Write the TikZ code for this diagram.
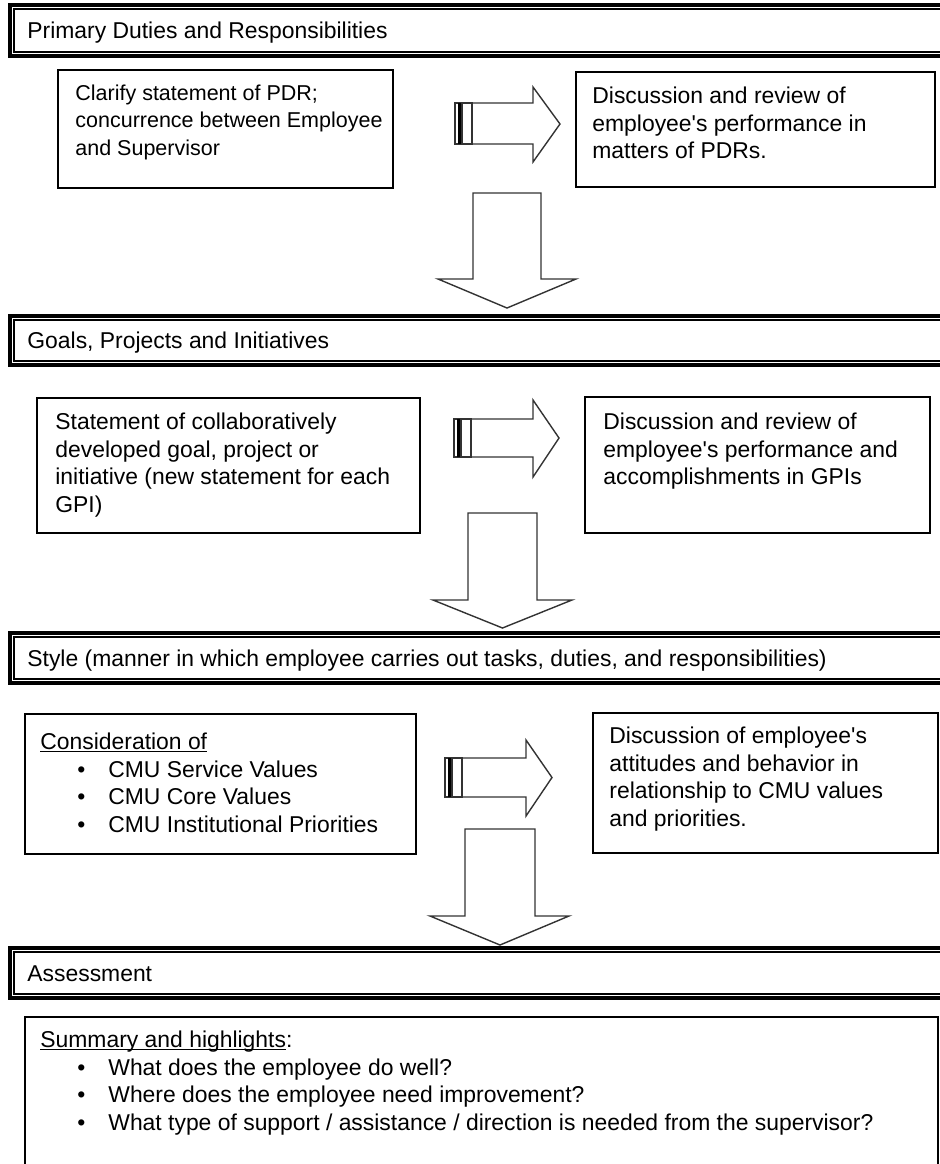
\documentclass[tikz,border=0pt]{standalone}
\usepackage{fontspec}
\setmainfont{Liberation Sans}
\usetikzlibrary{fit}

\newcommand\listpoint[1]{\hspace*{18.5pt}\makebox[15.5pt][l]{\textbullet}#1}
\newcommand\lowline[1]{\setbox0\hbox{#1}\rlap{\rule[-1.1pt]{\wd0}{0.55pt}}\box0}

\tikzset{
  box/.style = {draw, line width=0.75pt, inner sep=0pt},
  headbar/.style = {draw, line width=2pt, inner sep=0pt},
  boxtext/.style = {anchor=north west, inner sep=0pt, align=left},
  headtext/.style = {anchor=base west, inner sep=0pt},
  blockarrow/.style = {draw=black!80, line width=0.7pt, fill=white, line join=miter}
}

\begin{document}
\begin{tikzpicture}[x=0.5pt, y=-0.5pt, font=\fontsize{11.45}{13.75}\selectfont]
        \useasboundingbox (0,0) rectangle (940,1164);
        \clip (0,0) rectangle (940,1164);

        % header bars
        \node [headbar, fit={(10,5) (960,56)}] (pdrbar) {};
        \node [headbar, fit={(10,316) (960,365)}] (gpibar) {};
        \node [headbar, fit={(10,633) (960,683)}] (stylebar) {};
        \node [headbar, fit={(10,948) (960,998)}] (assessbar) {};
        \foreach \bar in {pdrbar, gpibar, stylebar, assessbar}
            \draw [line width=0.6pt] ([shift={(6,6)}]\bar.north west) rectangle ([shift={(0,-6)}]\bar.south east);

        \node [headtext] (pdrhead) at (27,38) {Primary Duties and Responsibilities};
        \node [headtext] (gpihead) at (27,348) {Goals, Projects and Initiatives};
        \node [headtext] (stylehead) at (27,666) {Style (manner in which employee carries out tasks, duties, and responsibilities)};
        \node [headtext] (assesshead) at (27,981) {Assessment};

        % boxes
        \node [box, fit={(58,70) (393,188)}] (pdrbox) {};
        \node [box, fit={(576,72) (935,187)}] (pdrreview) {};
        \node [box, fit={(37,398) (420,533)}] (gpibox) {};
        \node [box, fit={(585,397) (930,533)}] (gpireview) {};
        \node [box, fit={(25,714) (416,854)}] (stylebox) {};
        \node [box, fit={(593,713) (938,853)}] (stylereview) {};
        \node [box, fit={(25,1017) (938,1190)}] (assessbox) {};

        % box texts
        \node [boxtext, font=\fontsize{10.75}{13.75}\selectfont] (pdrtext) at (75,84.5) {Clarify statement of PDR;\\concurrence between Employee\\and Supervisor};
        \node [boxtext] (pdrreviewtext) at (592,86.5) {Discussion and review of\\employee\textquotesingle s performance in\\matters of PDRs.};
        \node [boxtext] (gpitext) at (55,412.5) {Statement of collaboratively\\developed goal, project or\\initiative (new statement for each\\GPI)};
        \node [boxtext] (gpireviewtext) at (603,412.5) {Discussion and review of\\employee\textquotesingle s performance and\\accomplishments in GPIs};
        \node [boxtext] (styletext) at (40,732.5) {\lowline{Consideration of}\\\listpoint{CMU Service Values}\\\listpoint{CMU Core Values}\\\listpoint{CMU Institutional Priorities}};
        \node [boxtext] (stylereviewtext) at (609,726.5) {Discussion of employee\textquotesingle s\\attitudes and behavior in\\relationship to CMU values\\and priorities.};
        \node [boxtext] (assesstext) at (40,1030.5) {\lowline{Summary and highlights}:\\\listpoint{What does the employee do well?}\\\listpoint{Where does the employee need improvement?}\\\listpoint{What type of support / assistance / direction is needed from the supervisor?}};

        % striped arrows to the right
        \draw [blockarrow] (472,103) -- (533,103) -- (533,87) -- (560,124) -- (533,162) -- (533,144) -- (472,144) -- cycle;
        \draw [blockarrow] (455,103) rectangle (462,144);
        \fill [black] (458,103) rectangle (462,144);
        \draw [blockarrow] (462,103) rectangle (472,144);

        \draw [blockarrow] (471,419) -- (533,419) -- (533,400) -- (559,438) -- (533,477) -- (533,457) -- (471,457) -- cycle;
        \draw [blockarrow] (454,419) rectangle (461,457);
        \fill [black] (457,419) rectangle (461,457);
        \draw [blockarrow] (461,419) rectangle (471,457);

        \draw [blockarrow] (462,758) -- (526,758) -- (526,740) -- (552,777.5) -- (526,816) -- (526,797) -- (462,797) -- cycle;
        \draw [blockarrow] (445,758) rectangle (452,797);
        \fill [black] (448,758) rectangle (452,797);
        \draw [blockarrow] (452,758) rectangle (462,797);

        % arrows down to the next section
        \draw [blockarrow] (473,193) -- (541,193) -- (541,279) -- (576,279) -- (507,308) -- (438,279) -- (473,279) -- cycle;
        \draw [blockarrow] (468,513) -- (537,513) -- (537,600) -- (572,600) -- (502.5,628) -- (433,600) -- (468,600) -- cycle;
        \draw [blockarrow] (465,829) -- (535,829) -- (535,916) -- (569,916) -- (500,945) -- (430,916) -- (465,916) -- cycle;
    \end{tikzpicture}
\end{document}
